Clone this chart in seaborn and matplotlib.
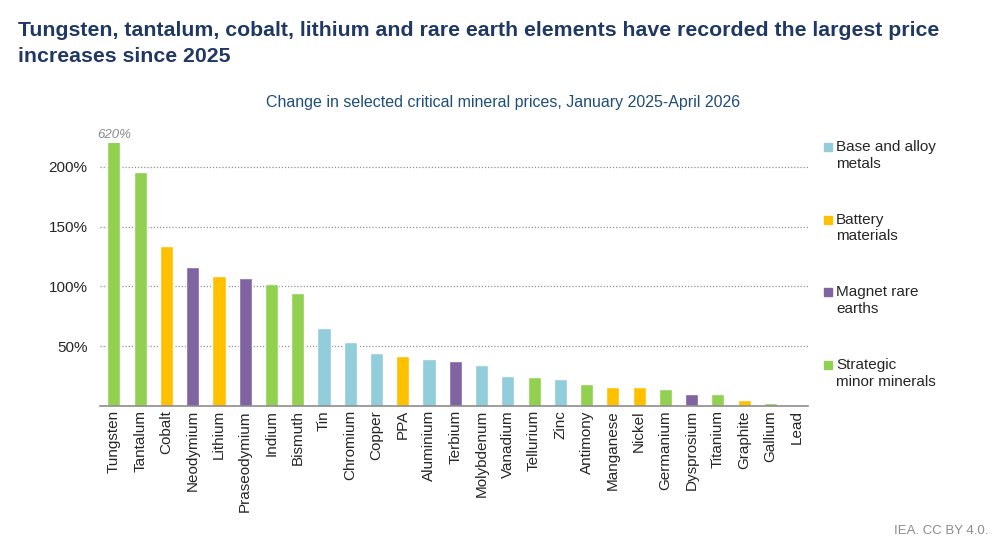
import matplotlib
matplotlib.use("Agg")
import matplotlib.pyplot as plt
import seaborn as sns
import pandas as pd
from matplotlib.patches import Rectangle

sns.set_style("white")
plt.rcParams['font.family'] = ['Liberation Sans', 'DejaVu Sans']

minerals = ["Tungsten", "Tantalum", "Cobalt", "Neodymium", "Lithium", "Praseodymium",
            "Indium", "Bismuth", "Tin", "Chromium", "Copper", "PPA", "Aluminium",
            "Terbium", "Molybdenum", "Vanadium", "Tellurium", "Zinc", "Antimony",
            "Manganese", "Nickel", "Germanium", "Dysprosium", "Titanium", "Graphite",
            "Gallium", "Lead"]
change = [620, 195.5, 133.6, 116.6, 108.5, 107.4, 101.8, 94.9, 65.0, 53.3, 44.5, 42.2,
          39.7, 37.8, 34.4, 24.9, 24.4, 22.7, 18.8, 16.3, 16.0, 14.4, 10.2, 9.9, 5.4,
          2.9, 0.8]
group = ["Strategic minor minerals", "Strategic minor minerals", "Battery materials",
         "Magnet rare earths", "Battery materials", "Magnet rare earths",
         "Strategic minor minerals", "Strategic minor minerals", "Base and alloy metals",
         "Base and alloy metals", "Base and alloy metals", "Battery materials",
         "Base and alloy metals", "Magnet rare earths", "Base and alloy metals",
         "Base and alloy metals", "Strategic minor minerals", "Base and alloy metals",
         "Strategic minor minerals", "Battery materials", "Battery materials",
         "Strategic minor minerals", "Magnet rare earths", "Strategic minor minerals",
         "Battery materials", "Strategic minor minerals", "Base and alloy metals"]

legend_labels = ["Base and alloy\nmetals", "Battery\nmaterials", "Magnet rare\nearths",
                 "Strategic\nminor minerals"]
groups = ["Base and alloy metals", "Battery materials", "Magnet rare earths",
          "Strategic minor minerals"]
colors = {"Base and alloy metals": "#92CDDC", "Battery materials": "#FFC000",
          "Magnet rare earths": "#8064A2", "Strategic minor minerals": "#92D050"}

df = pd.DataFrame({"mineral": minerals, "change": change, "group": group})

fig = plt.figure(figsize=(9.97, 5.46), dpi=100)
ax = fig.add_axes([100 / 997, 1 - 406 / 546, 708 / 997, 263 / 546])

sns.barplot(data=df, x="mineral", y="change", hue="group", palette=colors,
            order=minerals, dodge=False, width=0.5, saturation=1, legend=False, ax=ax)

ax.set_ylim(0, 220)
ax.set_xlim(-0.53, 26.43)
ax.set_yticks([50, 100, 150, 200])
ax.set_yticklabels(["50%", "100%", "150%", "200%"], fontsize=11)
ax.yaxis.grid(True, linestyle=(0, (1, 1.5)), color="#909090", linewidth=0.9)
ax.set_axisbelow(True)
ax.tick_params(axis="y", length=0, pad=9)
ax.tick_params(axis="x", length=0, pad=3)
plt.setp(ax.get_xticklabels(), rotation=90, fontsize=11)
ax.set_xlabel("")
ax.set_ylabel("")
for s in ["top", "right", "left"]:
    ax.spines[s].set_visible(False)
ax.spines["bottom"].set_color("#8c8c8c")
ax.spines["bottom"].set_linewidth(1.2)

# label for the truncated bar
ax.text(0, 222, "620%", ha="center", va="bottom", fontsize=9.5, style="italic",
        color="#8c8c8c")

# legend
for i, (g, lab) in enumerate(zip(groups, legend_labels)):
    ytop = 140 + i * 72.6
    fig.add_artist(Rectangle((824 / 997, 1 - (ytop + 11) / 546), 8 / 997, 8 / 546,
                             transform=fig.transFigure, color=colors[g]))
    fig.text(836 / 997, 1 - ytop / 546, lab, ha="left", va="top", fontsize=11,
             linespacing=1.25)

fig.text(18 / 997, 1 - 21 / 546,
         "Tungsten, tantalum, cobalt, lithium and rare earth elements have recorded the largest price\nincreases since 2025",
         ha="left", va="top", fontsize=15.3, fontweight="bold", color="#1F3864",
         linespacing=1.45)
fig.text(503 / 997, 1 - 102 / 546,
         "Change in selected critical mineral prices, January 2025-April 2026",
         ha="center", va="center", fontsize=11.5, color="#1F4E79")
fig.text(988 / 997, 1 - 531 / 546, "IEA. CC BY 4.0.", ha="right", va="center",
         fontsize=9.5, color="#8c8c8c")

fig.savefig("out.png", dpi=100)
